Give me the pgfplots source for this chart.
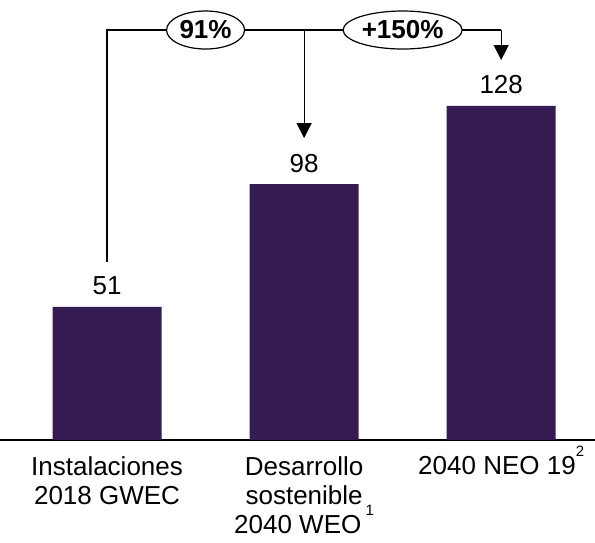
\documentclass[border=0pt]{standalone}
\usepackage{pgfplots}
\pgfplotsset{compat=1.18}
\usepackage{fontspec}
\setmainfont{Liberation Sans}
\usetikzlibrary{arrows.meta,shapes.geometric}
\definecolor{barcol}{RGB}{52,27,82}
\newcommand{\noteref}[1]{\smash{\raisebox{18bp}{\fontsize{15bp}{15bp}\selectfont #1}}}
\begin{document}
\begin{tikzpicture}
\begin{axis}[
    name=ax,
    scale only axis,
    width=595bp, height=440bp,
    xmin=-0.543, xmax=2.476,
    ymin=0, ymax=168.6,
    axis x line=bottom,
    axis y line=none,
    x axis line style={-, line width=1.2bp},
    xtick=data,
    major tick length=0pt,
    xticklabels={{Instalaciones\\2018 GWEC},{Desarrollo\\sostenible\\2040 WEO\,\noteref{1}},{2040 NEO 19\noteref{2}}},
    xticklabel style={align=center, anchor=north, inner sep=0pt, yshift=-16bp,
        font=\fontsize{26bp}{29bp}\selectfont},
    /pgf/number format/assume math mode=true,
    nodes near coords,
    every node near coord/.append style={anchor=base, inner sep=0pt, yshift=12bp,
        font=\fontsize{26bp}{29bp}\selectfont, text=black},
    clip=false,
]
\addplot[ybar, bar width=109bp, fill=barcol, draw=none] coordinates {(0,51) (1,98) (2,128)};

% brackets and growth labels
\draw[line width=1.2bp] (axis cs:0,68.2) -- (axis cs:0,157.1) -- (axis cs:2,157.1);
\draw[line width=1.2bp, -{Triangle[width=15bp,length=15bp]}] (axis cs:1,157.1) -- (axis cs:1,115.7);
\draw[line width=1.2bp, -{Triangle[width=15bp,length=15bp]}] (axis cs:2,157.1) -- (axis cs:2,145.6);
\node[ellipse, draw, line width=1.2bp, fill=white, minimum width=78bp, minimum height=38bp, inner sep=0pt,
    font=\bfseries\fontsize{26bp}{28bp}\selectfont] at (axis cs:0.5,157.1) {91\%};
\node[ellipse, draw, line width=1.2bp, fill=white, minimum width=119bp, minimum height=38bp, inner sep=0pt,
    font=\bfseries\fontsize{26bp}{28bp}\selectfont] at (axis cs:1.5,157.1) {+150\%};
\end{axis}
\pgfresetboundingbox
\path[use as bounding box] ([yshift=-103bp]ax.south west) rectangle (ax.north east);
\end{tikzpicture}
\end{document}
